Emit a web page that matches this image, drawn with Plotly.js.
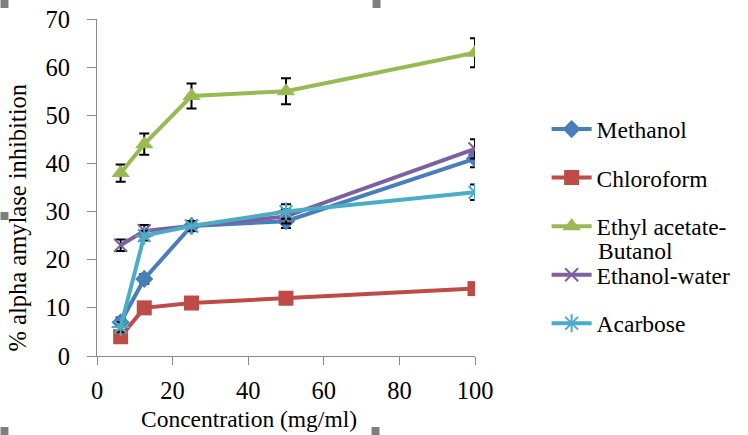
<!DOCTYPE html>
<html>
<head>
<meta charset="utf-8">
<script src="https://cdn.plot.ly/plotly-3.0.1.min.js"></script>
<style>html,body{margin:0;padding:0;background:#fff;}#chart{width:748px;height:435px;}</style>
</head>
<body>
<div id="chart"></div>
<script>
const concentrations = [6.25, 12.5, 25, 50, 100];
const methanol = [7, 16, 27, 28, 41];
const methanolErr = [1, 1, 1, 1.4, 1.8];
const chloroform = [4, 10, 11, 12, 14];
const chloroformErr = [0.5, 0.5, 0.5, 0.5, 0.5];
const ethylAcetateButanol = [38, 44, 54, 55, 63];
const ethylAcetateButanolErr = [1.8, 2.2, 2.6, 2.7, 3];
const ethanolWater = [23, 26, 27, 29, 43];
const ethanolWaterErr = [1.2, 1.2, 1, 1.5, 2];
const acarbose = [6, 25, 27, 30, 34];
const acarboseErr = [1, 1, 1, 1.5, 1.6];
const seriesNames = ["Methanol", "Chloroform", "Ethyl acetate-", "Ethanol-water", "Acarbose"];
const seriesNameWrap = "Butanol";
const xTicks = [0, 20, 40, 60, 80, 100];
const yTicks = [0, 10, 20, 30, 40, 50, 60, 70];
const xTitle = "Concentration (mg/ml)";
const yTitle = "% alpha amylase inhibition";

const F = "'Liberation Serif', 'Times New Roman', serif";
function err(a){ return {type:'data', array:a, visible:true, color:'#000', thickness:2, width:5}; }

const traces = [
  {x:concentrations, y:methanol, error_y:err(methanolErr), name:seriesNames[0], legendgroup:'g1',
   mode:'lines+markers', line:{color:'#4a7ebb', width:4}, marker:{symbol:'diamond', size:14, color:'#4a7ebb'}},
  {x:concentrations, y:chloroform, error_y:err(chloroformErr), name:seriesNames[1], legendgroup:'g2',
   mode:'lines+markers', line:{color:'#be4b48', width:4}, marker:{symbol:'square', size:15, color:'#be4b48'}},
  {x:concentrations, y:ethylAcetateButanol, error_y:err(ethylAcetateButanolErr), name:seriesNames[2], legendgroup:'g3',
   mode:'lines+markers', line:{color:'#98b954', width:4}, marker:{symbol:'triangle-up', size:16, color:'#98b954'}},
  {x:concentrations, y:ethanolWater, error_y:err(ethanolWaterErr), name:seriesNames[3], legendgroup:'g4',
   mode:'lines+markers', line:{color:'#7d60a0', width:4}, marker:{symbol:'x-thin', size:13, color:'#7d60a0', line:{color:'#7d60a0', width:2}}},
  {x:concentrations, y:acarbose, error_y:err(acarboseErr), name:seriesNames[4], legendgroup:'g5',
   mode:'lines+markers', line:{color:'#4bacc6', width:4}, marker:{symbol:'asterisk', size:15, color:'#4bacc6', line:{color:'#4bacc6', width:2}}},
  {x:[], y:[], xaxis:'x2', yaxis:'y2', showlegend:false, hoverinfo:'skip', mode:'markers'}
];

const L = 97, T = 19, W = 380, H = 337;
function px(x){ return (x - L) / W; }
function py(y){ return (T + H - y) / H; }
const handles = [[0,0],[374,0],[0,212],[0,427],[373,427]];
const shapes = handles.map(h => ({type:'rect', xref:'paper', yref:'paper', layer:'above',
  x0:px(h[0]), x1:px(h[0]+8), y0:py(h[1]), y1:py(h[1]+8), fillcolor:'#7f7f7f', line:{width:0}}));

const annotations = [
  {text:xTitle, xref:'paper', yref:'paper', x:px(250), y:py(419), xanchor:'center', yanchor:'middle',
   showarrow:false, borderpad:0, font:{family:F, size:23.5, color:'#000'}},
  {text:yTitle, xref:'paper', yref:'paper', x:px(17), y:py(218), xanchor:'center', yanchor:'middle',
   textangle:-90, showarrow:false, font:{family:F, size:24.5, color:'#000'}},
  {text:seriesNameWrap, xref:'paper', yref:'paper', x:px(600), y:py(251), xanchor:'left', yanchor:'middle',
   showarrow:false, borderpad:0, font:{family:F, size:23.5, color:'#000'}}
];

const layout = {
  width:748, height:435,
  margin:{l:L, r:748-L-W, t:T, b:435-T-H, pad:0},
  paper_bgcolor:'#fff', plot_bgcolor:'#fff',
  font:{family:F, size:23.5, color:'#000'},
  showlegend:true,
  legend:{x:px(549), y:0.738, xanchor:'left', yanchor:'top', traceorder:'grouped', tracegroupgap:15,
          valign:'top', font:{family:F, size:23.5, color:'#000'}, bgcolor:'rgba(0,0,0,0)', itemwidth:40},
  xaxis:{range:[0,100], tickvals:xTicks, ticktext:xTicks.map(String), showgrid:false, zeroline:false,
         showline:true, linecolor:'#888', linewidth:1, ticks:'outside', ticklen:13, tickcolor:'rgba(0,0,0,0)',
         tickfont:{family:F, size:24.5}},
  yaxis:{range:[0,70], tickvals:yTicks, ticktext:yTicks.map(String), showgrid:false, zeroline:false,
         showline:true, linecolor:'#888', linewidth:1, ticks:'outside', ticklen:21, tickcolor:'rgba(0,0,0,0)',
         tickfont:{family:F, size:24.5}},
  xaxis2:{overlaying:'x', anchor:'y2', range:[0,100], tickvals:xTicks, showticklabels:false, showgrid:false,
          zeroline:false, showline:false, ticks:'outside', ticklen:8, tickcolor:'#888', side:'bottom'},
  yaxis2:{overlaying:'y', anchor:'x2', range:[0,70], tickvals:yTicks, showticklabels:false, showgrid:false,
          zeroline:false, showline:false, ticks:'outside', ticklen:9, tickcolor:'#888', side:'left'},
  shapes:shapes,
  annotations:annotations
};
Plotly.newPlot('chart', traces, layout, {displayModeBar:false, staticPlot:true});
</script>
</body>
</html>
